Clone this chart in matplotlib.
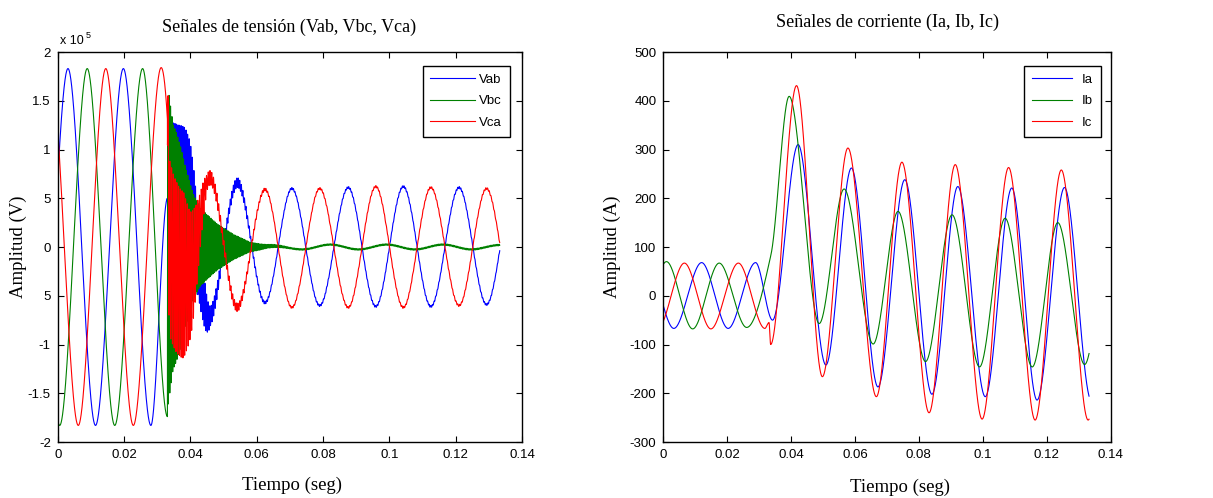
import numpy as np
import matplotlib
matplotlib.use("Agg")
import matplotlib.pyplot as plt

plt.rcParams['font.family'] = ['Liberation Sans', 'DejaVu Sans']
plt.rcParams['axes.unicode_minus'] = False

# ---- extrema / key points of each trace ----
# voltages (x 1e5 V)
vab_t = [-0.0053, 0.0031, 0.0114, 0.0198, 0.0281, 0.0331, 0.0395, 0.0456, 0.0542, 0.0625,
         0.0706, 0.0790, 0.0876, 0.0959, 0.1042, 0.1125, 0.1210, 0.1293, 0.1376]
vab_v = [-1.83, 1.83, -1.83, 1.83, -1.83, 0.50, 0.45, -0.72, 0.66, -0.57,
         0.60, -0.60, 0.61, -0.61, 0.62, -0.61, 0.61, -0.59, 0.60]

vbc_t = [-0.0077, 0.0006, 0.0089, 0.0172, 0.0256, 0.0331, 0.03318, 0.0600, 0.0652, 0.0737,
         0.0822, 0.0907, 0.0992, 0.1077, 0.1162, 0.1247, 0.1332, 0.1417]
vbc_v = [1.83, -1.83, 1.83, -1.83, 1.83, -1.74, 0.0, 0.0, 0.01, -0.025,
         0.025, -0.025, 0.025, -0.025, 0.025, -0.025, 0.02, -0.025]

vca_t = [-0.0022, 0.0062, 0.0145, 0.0228, 0.0312, 0.0331, 0.0337, 0.0395, 0.0459, 0.0541,
         0.0625, 0.0706, 0.0790, 0.0876, 0.0959, 0.1042, 0.1125, 0.1210, 0.1293, 0.1376]
vca_v = [1.83, -1.83, 1.83, -1.83, 1.84, 1.30, 0.0, -0.30, 0.71, -0.62,
         0.59, -0.62, 0.60, -0.62, 0.62, -0.62, 0.61, -0.60, 0.60, -0.60]

# high frequency ringing after the fault: envelope (x 1e5 V) and frequency (Hz)
vab_ring_t = [0.0331, 0.0340, 0.0385, 0.0410, 0.0430, 0.0460, 0.0500, 0.0545, 0.0600, 0.0650, 0.1340]
vab_ring_a = [0.20, 0.78, 0.76, 0.55, 0.35, 0.10, 0.05, 0.05, 0.02, 0.010, 0.010]
vbc_ring_t = [0.0331, 0.0338, 0.0347, 0.0367, 0.0387, 0.0408, 0.0428, 0.0448, 0.0480, 0.0530,
              0.0580, 0.0630, 0.0700, 0.1340]
vbc_ring_a = [1.70, 1.50, 1.28, 1.08, 0.80, 0.55, 0.41, 0.34, 0.24, 0.13, 0.05, 0.02, 0.008, 0.008]
vca_ring_t = [0.0331, 0.0336, 0.0380, 0.0410, 0.0430, 0.0450, 0.0500, 0.0550, 0.0600, 0.0650, 0.1340]
vca_ring_a = [0.40, 0.90, 0.85, 0.55, 0.28, 0.08, 0.05, 0.04, 0.02, 0.01, 0.01]
ring_freq = [2100, 2300, 1900]

# currents (A)
ia_t = [-0.0050, 0.0033, 0.0120, 0.0203, 0.0289, 0.0342, 0.0422, 0.0509, 0.0589, 0.0672,
        0.0756, 0.0841, 0.0922, 0.1008, 0.1091, 0.1170, 0.1256, 0.1340]
ia_v = [67, -67, 68, -67, 68, -50, 310, -142, 262, -187, 238, -202, 224, -207, 221, -214, 222, -215]

ib_t = [-0.0073, 0.0010, 0.0092, 0.0175, 0.0261, 0.0337, 0.0394, 0.0488, 0.0566, 0.0657,
        0.0735, 0.0821, 0.0904, 0.0990, 0.1070, 0.1155, 0.1235, 0.1319, 0.1400]
ib_v = [-68, 70, -68, 67, -65, 84, 409, -57, 219, -99, 173, -135, 166, -146, 159, -146, 150, -141, 150]

ic_t = [-0.0017, 0.0066, 0.0149, 0.0235, 0.0318, 0.0331, 0.0336, 0.0417, 0.0498, 0.0578,
        0.0667, 0.0747, 0.0832, 0.0914, 0.0998, 0.1081, 0.1164, 0.1246, 0.1330]
ic_v = [-67, 67, -68, 67, -67, -55, -100, 431, -166, 303, -207, 274, -240, 269, -253, 263, -255, 258, -255]

t_end = 0.1333


def pchip(xk, yk, xq):
    # monotone cubic through the read points (flat at the peaks)
    xk = np.asarray(xk, float)
    yk = np.asarray(yk, float)
    h = np.diff(xk)
    d = np.diff(yk) / h
    m = np.zeros_like(yk)
    for k in range(1, len(xk) - 1):
        if d[k - 1] * d[k] > 0:
            w1 = 2 * h[k] + h[k - 1]
            w2 = h[k] + 2 * h[k - 1]
            m[k] = (w1 + w2) / (w1 / d[k - 1] + w2 / d[k])
    i = np.clip(np.searchsorted(xk, xq) - 1, 0, len(h) - 1)
    s = (xq - xk[i]) / h[i]
    h00 = 2 * s**3 - 3 * s**2 + 1
    h10 = s**3 - 2 * s**2 + s
    h01 = -2 * s**3 + 3 * s**2
    h11 = s**3 - s**2
    return h00 * yk[i] + h10 * h[i] * m[i] + h01 * yk[i + 1] + h11 * h[i] * m[i + 1]


t = np.arange(0, t_end, 0.00002)


def ringing(rt, ra, f):
    return np.interp(t, rt, ra, left=0.0) * np.sin(2 * np.pi * f * t)


vab = pchip(vab_t, vab_v, t) + ringing(vab_ring_t, vab_ring_a, ring_freq[0])
vbc = pchip(vbc_t, vbc_v, t) + ringing(vbc_ring_t, vbc_ring_a, ring_freq[1])
vca = pchip(vca_t, vca_v, t) + ringing(vca_ring_t, vca_ring_a, ring_freq[2])
ia = pchip(ia_t, ia_v, t)
ib = pchip(ib_t, ib_v, t)
ic = pchip(ic_t, ic_v, t)

colors = ['#0000ff', '#008000', '#ff0000']
W, H = 1213, 498
fig = plt.figure(figsize=(W / 100, H / 100), dpi=100)
ax1 = fig.add_axes([57.7 / W, 56 / H, 464.3 / W, 390 / H])
ax2 = fig.add_axes([663.3 / W, 56 / H, 447.2 / W, 390 / H])

for y, c, lab in zip([vab, vbc, vca], colors, ['Vab', 'Vbc', 'Vca']):
    ax1.plot(t, y, color=c, lw=0.8, label=lab)
for y, c, lab in zip([ia, ib, ic], colors, ['Ia', 'Ib', 'Ic']):
    ax2.plot(t, y, color=c, lw=0.8, label=lab)

xt = [0, 0.02, 0.04, 0.06, 0.08, 0.1, 0.12, 0.14]
xt_lab = ['0', '0.02', '0.04', '0.06', '0.08', '0.1', '0.12', '0.14']
ax1.set_xlim(0, 0.14)
ax1.set_ylim(-2, 2)
ax1.set_yticks([2, 1.5, 1, 0.5, 0, -0.5, -1, -1.5, -2])
ax1.set_yticklabels(['2', '1.5', '1', '5', '0', '5', '-1', '-1.5', '-2'])
ax2.set_xlim(0, 0.14)
ax2.set_ylim(-300, 500)
ax2.set_yticks(range(-300, 501, 100))

for ax in (ax1, ax2):
    ax.set_xticks(xt)
    ax.set_xticklabels(xt_lab)
    ax.tick_params(direction='in', top=True, right=True, length=4, width=0.8,
                   labelsize=9.5, pad=5)
    for sp in ax.spines.values():
        sp.set_linewidth(1.0)

leg_kw = dict(loc='upper right', fontsize=9.5, fancybox=False, framealpha=1,
              edgecolor='black', borderaxespad=0, labelspacing=0.7, borderpad=0.6)
l1 = ax1.legend(bbox_to_anchor=(0.974, 0.965), handlelength=3.4, handletextpad=0.3, **leg_kw)
l2 = ax2.legend(bbox_to_anchor=(0.979, 0.965), handlelength=3.0, handletextpad=0.8, **leg_kw)
for l in (l1, l2):
    l.get_frame().set_linewidth(1.0)

serif = ['Liberation Serif', 'DejaVu Serif']
fig.text(289 / W, 1 - 27 / H, 'Señales de tensión (Vab, Vbc, Vca)', family=serif,
         fontsize=13, ha='center', va='center')
fig.text(888 / W, 1 - 22 / H, 'Señales de corriente (Ia, Ib, Ic)', family=serif,
         fontsize=13, ha='center', va='center')
fig.text(292 / W, 1 - 485 / H, 'Tiempo (seg)', family=serif, fontsize=13.5, ha='center', va='center')
fig.text(900 / W, 1 - 487 / H, 'Tiempo (seg)', family=serif, fontsize=13.5, ha='center', va='center')
fig.text(18 / W, 1 - 247 / H, 'Amplitud (V)', family=serif, fontsize=13.5, rotation=90,
         ha='center', va='center')
fig.text(612 / W, 1 - 247 / H, 'Amplitud (A)', family=serif, fontsize=13.5, rotation=90,
         ha='center', va='center')
fig.text(60 / W, 1 - 41 / H, 'x 10', fontsize=9, ha='left', va='center')
fig.text(86 / W, 1 - 35 / H, '5', fontsize=6.5, ha='left', va='center')

fig.savefig('out.png', dpi=100)
